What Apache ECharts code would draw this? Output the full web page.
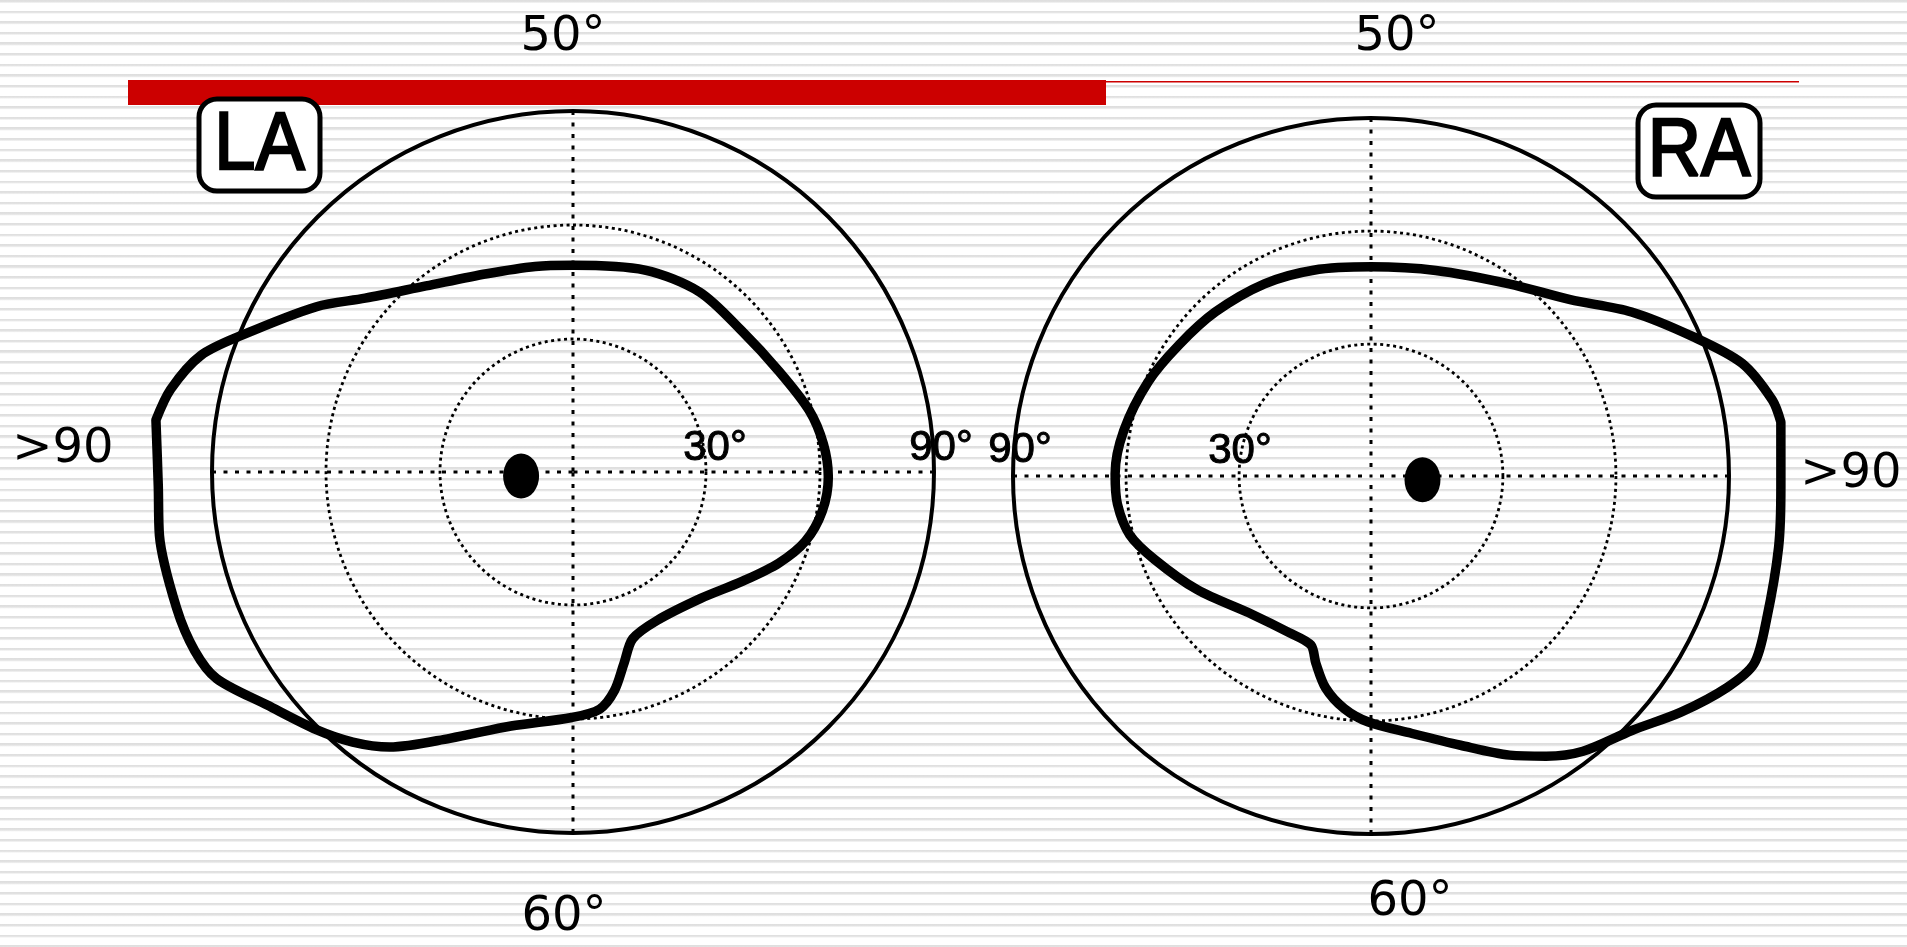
<!DOCTYPE html>
<html>
<head>
<meta charset="utf-8">
<script src="https://cdn.jsdelivr.net/npm/echarts@6/dist/echarts.min.js"></script>
<style>
  html, body { margin: 0; padding: 0; width: 1907px; height: 947px; overflow: hidden; }
  body {
    background: repeating-linear-gradient(to bottom,
      #dedede 0px, #e2e2e2 1.7px, #f1f1f1 2.6px, #ffffff 3.4px, #ffffff 10.62px);
  }
  #chart { width: 1907px; height: 947px; }
</style>
</head>
<body>
<div id="chart"></div>
<script>
// Kinetic perimetry isopters, left (LA) and right (RA) eye.
// Angle: degrees counter-clockwise from the right horizontal meridian.
// Eccentricity: degrees of visual field.
const laAngle = [172.9, 182.0, 188.7, 199.0, 205.3, 210.1, 217.4, 225.1, 230.8, 236.3,
                 245.2, 256.3, 269.7, 276.4, 280.7, 285.0, 289.7, 299.5, 315.3, 327.1,
                 336.1, 343.4, 351.1, 358.9, 6.4, 14.7, 26.2, 39.8, 54.9, 70.4,
                 90.0, 100.4, 113.5, 128.3, 140.1, 147.2, 157.4, 162.6, 168.4, 172.9];
const laEcc   = [105.6, 104.2, 105.1, 105.3, 105.1, 103.4, 96.1, 90.7, 86.7, 82.0,
                 72.2, 63.8, 59.6, 57.8, 53.6, 47.0, 41.6, 39.9, 42.3, 48.0,
                 54.2, 58.8, 61.4, 62.2, 61.3, 59.2, 55.3, 52.9, 52.9, 51.4,
                 49.4, 50.0, 51.9, 57.4, 66.3, 75.3, 89.0, 97.6, 103.1, 105.6];

const raAngle = [7.5, 10.7, 16.9, 23.4, 32.2, 41.5, 54.3, 72.5, 90.0, 105.6,
                 119.0, 133.5, 145.7, 157.1, 169.6, 179.5, 186.3, 193.7, 201.0, 213.2,
                 229.4, 242.4, 250.4, 253.6, 257.9, 263.4, 269.4, 278.9, 288.4, 296.4,
                 302.0, 307.6, 315.7, 322.7, 329.3, 333.9, 339.9, 350.1, 358.6, 7.5];
const raEcc   = [104.7, 103.4, 97.9, 88.1, 76.7, 65.6, 57.8, 52.2, 50.5, 51.7,
                 53.3, 55.0, 56.7, 59.2, 61.7, 62.9, 62.7, 60.9, 56.6, 50.1,
                 43.4, 41.9, 42.6, 46.8, 52.5, 57.1, 60.3, 64.1, 70.3, 77.7,
                 82.7, 87.2, 91.7, 98.4, 104.9, 108.2, 106.7, 104.8, 103.8, 104.7];

// Blind spot: [eccentricity, angle]
const laBlindSpot = [8.7, 184.4];
const raBlindSpot = [8.7, 355.8];

// Reference rings (degrees) and their tick labels
const ringValues = [30, 60];
const ringLabels = ['30°', '90°'];
const extentLabels = { top: '50°', bottom: '60°', side: '>90' };
const eyeLabels = ['LA', 'RA'];

// Scale: the chart frame ends at 90°, isopters may reach beyond it
const eccMin = -5, frameMax = 90, plotMax = 120;

const pairs = (ecc, ang) => ecc.map((r, i) => [r, ang[i]]);

const chart = echarts.init(document.getElementById('chart'), null, { renderer: 'canvas' });

// Two eyes: frame polar (rings, meridians) + wider plot polar sharing the same scale
const eyes = [
  { center: [573, 472], radius: 361 },
  { center: [1371, 476], radius: 358 }
];
const plotRadius = (r) => r * (plotMax - eccMin) / (frameMax - eccMin);

function frameAngleAxis(idx) {
  return {
    polarIndex: idx, type: 'value', min: 0, max: 360, interval: 90,
    startAngle: 0, clockwise: false,
    axisLine: { show: true, lineStyle: { color: '#000', width: 4 } },
    axisTick: { show: false }, axisLabel: { show: false },
    splitLine: { show: true, lineStyle: { color: '#000', width: 3, type: [4, 7.5] } }
  };
}
function frameRadiusAxis(idx) {
  return {
    polarIndex: idx, type: 'value', min: eccMin, max: frameMax,
    axisLine: { show: false }, axisLabel: { show: false },
    axisTick: { show: false, customValues: ringValues },
    splitLine: { show: true, lineStyle: { color: '#000', width: 2.8, type: [3, 3.5] } }
  };
}
function plotAngleAxis(idx) {
  return {
    polarIndex: idx, type: 'value', min: 0, max: 360, startAngle: 0, clockwise: false,
    axisLine: { show: false }, axisTick: { show: false },
    axisLabel: { show: false }, splitLine: { show: false }
  };
}
function plotRadiusAxis(idx) {
  return {
    polarIndex: idx, type: 'value', min: eccMin, max: plotMax,
    axisLine: { show: false }, axisTick: { show: false },
    axisLabel: { show: false }, splitLine: { show: false }
  };
}
function isopter(idx, data) {
  return {
    type: 'line', coordinateSystem: 'polar', polarIndex: idx, data: data,
    smooth: 0.3, symbol: 'none', clip: false,
    lineStyle: { color: '#000', width: 9.5, join: 'round', cap: 'round' }
  };
}
function blindSpot(idx, pt) {
  return {
    type: 'scatter', coordinateSystem: 'polar', polarIndex: idx, data: [pt],
    symbol: 'circle', symbolSize: [36, 45], clip: false,
    itemStyle: { color: '#000', opacity: 1 }
  };
}

const sansFont = (size) => size + 'px "DejaVu Sans", sans-serif';
const arialFont = (size) => size + 'px "Liberation Sans", Arial, sans-serif';
function txt(x, y, text, font, stroke) {
  return { type: 'text', x: x, y: y,
    style: { text: text, font: font, fill: '#000', align: 'center', verticalAlign: 'middle',
             stroke: stroke ? '#000' : null, lineWidth: stroke || 0 } };
}
function eyeBox(x, y, w, h, label) {
  return [
    { type: 'rect', shape: { x: x, y: y, width: w, height: h, r: 18 },
      style: { fill: '#fff', stroke: '#000', lineWidth: 5 } },
    { type: 'text', x: x + w / 2, y: y + h / 2 + 1, scaleX: 0.9,
      style: { text: label, font: arialFont(82), fill: '#000', align: 'center',
               verticalAlign: 'middle', stroke: '#000', lineWidth: 2.5 } }
  ];
}

chart.setOption({
  animation: false,
  backgroundColor: 'transparent',
  polar: [
    { center: eyes[0].center, radius: eyes[0].radius },
    { center: eyes[1].center, radius: eyes[1].radius },
    { center: eyes[0].center, radius: plotRadius(eyes[0].radius) },
    { center: eyes[1].center, radius: plotRadius(eyes[1].radius) }
  ],
  angleAxis: [frameAngleAxis(0), frameAngleAxis(1), plotAngleAxis(2), plotAngleAxis(3)],
  radiusAxis: [frameRadiusAxis(0), frameRadiusAxis(1), plotRadiusAxis(2), plotRadiusAxis(3)],
  series: [
    isopter(2, pairs(laEcc, laAngle)),
    isopter(3, pairs(raEcc, raAngle)),
    blindSpot(2, laBlindSpot),
    blindSpot(3, raBlindSpot)
  ],
  graphic: [
    { type: 'rect', shape: { x: 128, y: 80, width: 978, height: 25 }, style: { fill: '#cc0000' } },
    { type: 'rect', shape: { x: 1106, y: 81, width: 693, height: 1.6 }, style: { fill: '#cc0000' } },
    ...eyeBox(199, 99, 121, 92, eyeLabels[0]),
    ...eyeBox(1638, 105, 122, 92, eyeLabels[1]),
    txt(563, 38, extentLabels.top, sansFont(48)),
    txt(1397, 38, extentLabels.top, sansFont(48)),
    txt(564, 918, extentLabels.bottom, sansFont(48)),
    txt(1410, 903, extentLabels.bottom, sansFont(48)),
    txt(63, 450, extentLabels.side, sansFont(48)),
    txt(1851, 475, extentLabels.side, sansFont(48)),
    txt(715, 448, ringLabels[0], arialFont(42), 1),
    txt(941, 448, ringLabels[1], arialFont(42), 1),
    txt(1020, 450, ringLabels[1], arialFont(42), 1),
    txt(1240, 451, ringLabels[0], arialFont(42), 1)
  ]
});
</script>
</body>
</html>
